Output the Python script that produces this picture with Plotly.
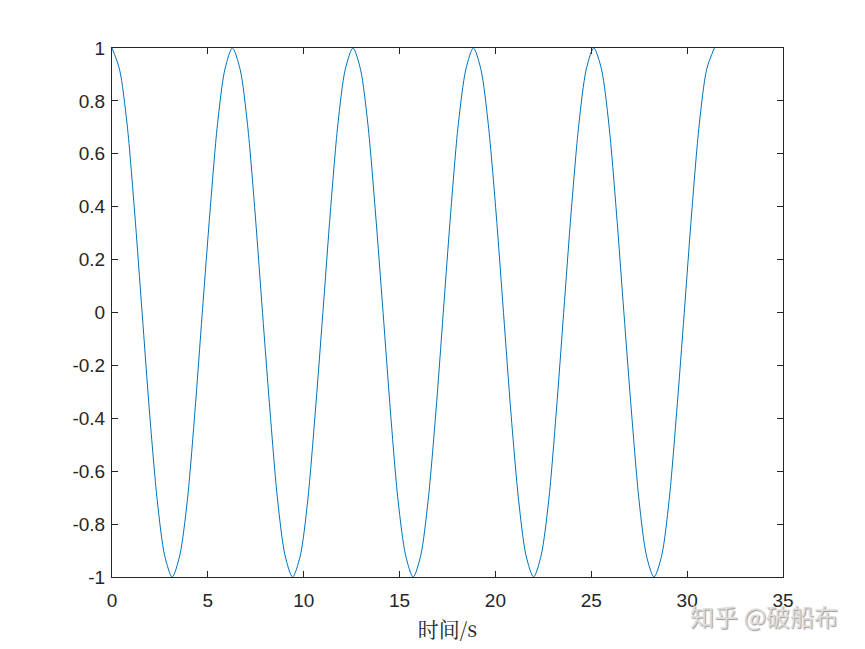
import plotly.graph_objects as go

# time samples (s) and amplitude
time_s = [0, 0.39, 0.79, 1.18, 1.57, 1.96, 2.36, 2.75, 3.14, 3.53,
          3.93, 4.32, 4.71, 5.11, 5.50, 5.89, 6.28, 6.68, 7.07, 7.46,
          7.85, 8.25, 8.64, 9.03, 9.42, 9.82, 10.21, 10.60, 11.00, 11.39,
          11.78, 12.17, 12.57, 12.96, 13.35, 13.74, 14.14, 14.53, 14.92, 15.32,
          15.71, 16.10, 16.49, 16.89, 17.28, 17.67, 18.06, 18.46, 18.85, 19.24,
          19.63, 20.03, 20.42, 20.81, 21.21, 21.60, 21.99, 22.38, 22.78, 23.17,
          23.56, 23.95, 24.35, 24.74, 25.13, 25.53, 25.92, 26.31, 26.70, 27.10,
          27.49, 27.88, 28.27, 28.67, 29.06, 29.45, 29.85, 30.24, 30.63, 31.02,
          31.42]
amplitude = [1, 0.92, 0.71, 0.38, 0, -0.38, -0.71, -0.92,
             -1, -0.92, -0.71, -0.38, 0, 0.38, 0.71, 0.92,
             1, 0.92, 0.71, 0.38, 0, -0.38, -0.71, -0.92,
             -1, -0.92, -0.71, -0.38, 0, 0.38, 0.71, 0.92,
             1, 0.92, 0.71, 0.38, 0, -0.38, -0.71, -0.92,
             -1, -0.92, -0.71, -0.38, 0, 0.38, 0.71, 0.92,
             1, 0.92, 0.71, 0.38, 0, -0.38, -0.71, -0.92,
             -1, -0.92, -0.71, -0.38, 0, 0.38, 0.71, 0.92,
             1, 0.92, 0.71, 0.38, 0, -0.38, -0.71, -0.92,
             -1, -0.92, -0.71, -0.38, 0, 0.38, 0.71, 0.92,
             1]

x_ticks = [0, 5, 10, 15, 20, 25, 30, 35]
y_ticks = [-1, -0.8, -0.6, -0.4, -0.2, 0, 0.2, 0.4, 0.6, 0.8, 1]
y_labels = ["-1", "-0.8", "-0.6", "-0.4", "-0.2", "0", "0.2", "0.4", "0.6", "0.8", "1"]

fig = go.Figure()

fig.add_trace(go.Scatter(
    x=time_s,
    y=amplitude,
    mode='lines',
    line=dict(color='#0072BD', width=1, shape='spline', smoothing=0.8),
    showlegend=False
))

axis_common = dict(
    showgrid=False,
    zeroline=False,
    showline=True,
    linecolor='#262626',
    linewidth=1,
    mirror='allticks',
    ticks='inside',
    ticklen=6,
    tickcolor='#262626',
    tickfont=dict(size=19, color='#262626', family="Liberation Sans, Arial"),
)

# page body adds 8px offset, so the figure is 8px smaller on each side
fig.update_layout(
    width=857,
    height=641,
    margin=dict(l=104, r=82, t=40, b=72),
    plot_bgcolor='white',
    paper_bgcolor='white',
    xaxis=dict(
        range=[0, 35],
        tickvals=x_ticks,
        ticklabelstandoff=6,
        title=dict(text="时间/s", standoff=12,
                   font=dict(size=21, color='#262626', family="Noto Serif CJK SC, Noto Sans CJK SC")),
        **axis_common
    ),
    yaxis=dict(
        range=[-1, 1],
        tickvals=y_ticks,
        ticktext=y_labels,
        ticklabelstandoff=2,
        **axis_common
    ),
)

# watermark
fig.add_annotation(
    x=(764 - 112) / 671, y=-(615 - 577) / 529, xref='paper', yref='paper',
    showarrow=False, xanchor='center', yanchor='middle',
    text="知乎 @破船布",
    font=dict(size=24, color='#dcdcdc', family="Noto Sans CJK SC",
              shadow="1px 1px 1px #9a9a9a"),
)

fig.write_html("out.html")
